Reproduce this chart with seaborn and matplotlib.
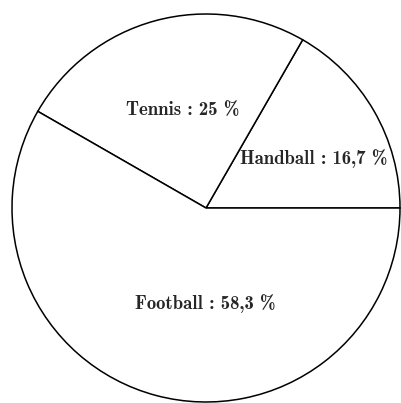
import numpy as np
import matplotlib
matplotlib.use('Agg')
import matplotlib.pyplot as plt
import seaborn as sns

sports = ['Handball', 'Tennis', 'Football']
shares = [16.7, 25.0, 58.3]
share_labels = ['16,7', '25', '58,3']

# where each label sits: (radius, angle offset from slice middle in degrees)
label_place = [(0.61, -5.5), (0.52, -2.0), (0.495, 14.7)]

sns.set_style('white')
plt.rcParams['font.family'] = ['cmb10', 'DejaVu Serif']
plt.rcParams['axes.unicode_minus'] = False

fig = plt.figure(figsize=(4.01, 4.03), dpi=100)
ax = fig.add_axes([0, 0, 1, 1])

wedges, texts = ax.pie(shares, startangle=0, counterclock=True,
                       colors=['white'] * 3,
                       wedgeprops=dict(edgecolor='black', linewidth=1.1))

start = 0
for w, name, lab, (r, off), s in zip(wedges, sports, share_labels, label_place, shares):
    mid = np.deg2rad(start + s * 3.6 / 2 + off)
    ax.text(r * np.cos(mid), r * np.sin(mid), f'{name} : {lab} %',
            ha='center', va='center', fontsize=13.5)
    start += s * 3.6

R = 194
ax.set_xlim(-206 / R, 195 / R)
ax.set_ylim(-195 / R, 208 / R)
ax.set_aspect('auto')
ax.axis('off')

fig.savefig('out.png', dpi=100, facecolor='white')
